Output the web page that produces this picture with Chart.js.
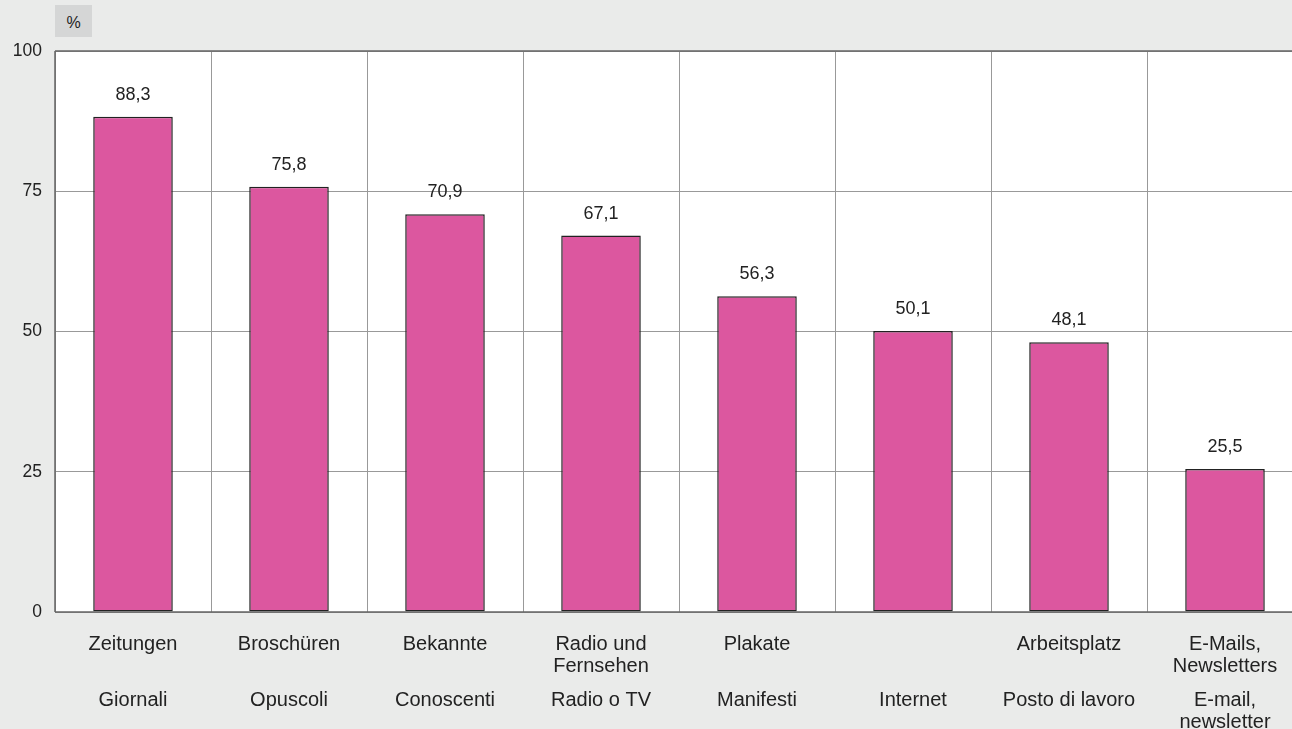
<!DOCTYPE html>
<html><head><meta charset="utf-8">
<script src="https://cdn.jsdelivr.net/npm/chart.js@4/dist/chart.umd.min.js"></script>
<style>
html,body{margin:0;padding:0;background:#eaebea;overflow:hidden;}
#wrap{position:relative;width:1310px;height:729px;}
#unit{position:absolute;left:55px;top:5px;width:37px;height:32px;background:#d5d6d6;font:16px "Liberation Sans",Arial,sans-serif;color:#222;text-align:center;line-height:36px;}
</style></head>
<body>
<div id="wrap"><canvas id="c" width="1310" height="729"></canvas><div id="unit">%</div></div>
<script>
const labelsDE = [["Zeitungen"],["Broschüren"],["Bekannte"],["Radio und","Fernsehen"],["Plakate"],[""],["Arbeitsplatz"],["E-Mails,","Newsletters"]];
const labelsIT = [["Giornali"],["Opuscoli"],["Conoscenti"],["Radio o TV"],["Manifesti"],["Internet"],["Posto di lavoro"],["E-mail,","newsletter"]];
const values = [88.3, 75.8, 70.9, 67.1, 56.3, 50.1, 48.1, 25.5];
const yTicks = [0, 25, 50, 75, 100];

const FONT = '"Liberation Sans", Arial, sans-serif';

const labelPlugin = {
  id: 'labels',
  afterDatasetsDraw(chart) {
    const ctx = chart.ctx;
    const meta = chart.getDatasetMeta(0);
    const xs = chart.scales.x;
    ctx.save();
    ctx.fillStyle = '#222';
    ctx.textAlign = 'center';
    ctx.textBaseline = 'middle';
    ctx.font = '18px ' + FONT;
    meta.data.forEach((bar, i) => {
      ctx.fillText(values[i].toFixed(1).replace('.', ','), bar.x, bar.y - 22);
    });
    ctx.font = '20px ' + FONT;
    const bottom = chart.chartArea.bottom;
    for (let i = 0; i < values.length; i++) {
      const x = xs.getPixelForValue(i);
      labelsDE[i].forEach((t, k) => ctx.fillText(t, x, bottom + 32 + k * 22));
      labelsIT[i].forEach((t, k) => ctx.fillText(t, x, bottom + 88 + k * 22));
    }
    ctx.strokeStyle = '#666';
    ctx.lineWidth = 1.5;
    const a = chart.chartArea;
    ctx.beginPath();
    ctx.moveTo(a.left, a.top); ctx.lineTo(a.right, a.top);
    ctx.moveTo(a.left, a.top); ctx.lineTo(a.left, a.bottom);
    ctx.moveTo(a.left, a.bottom); ctx.lineTo(a.right, a.bottom);
    ctx.stroke();
    ctx.restore();
  }
};

const bgPlugin = {
  id: 'bg',
  beforeDraw(chart) {
    const a = chart.chartArea;
    chart.ctx.save();
    chart.ctx.fillStyle = '#ffffff';
    chart.ctx.fillRect(a.left, a.top, a.right - a.left, a.bottom - a.top);
    chart.ctx.restore();
  }
};

new Chart(document.getElementById('c'), {
  type: 'bar',
  data: {
    labels: labelsDE.map(l => l.join(' ')),
    datasets: [{
      data: values,
      backgroundColor: '#dc579f',
      borderColor: '#222',
      borderWidth: 1.5,
      borderSkipped: false,
      barPercentage: 0.51,
      categoryPercentage: 1.0
    }]
  },
  options: {
    responsive: false,
    animation: false,
    layout: { padding: { left: 0, right: 7, top: 51, bottom: 0 } },
    plugins: { legend: { display: false }, tooltip: { enabled: false } },
    scales: {
      x: {
        offset: true,
        grid: { offset: true, color: '#999', lineWidth: 1, drawTicks: false },
        border: { display: false },
        ticks: { display: false },
        afterFit(s) { s.height = 117; }
      },
      y: {
        min: 0, max: 100,
        afterBuildTicks(s) { s.ticks = yTicks.map(v => ({ value: v })); },
        grid: { color: '#999', lineWidth: 1, drawTicks: false },
        border: { display: false },
        ticks: { color: '#222', font: { size: 17.5, family: FONT }, padding: 13 },
        afterFit(s) { s.width = 55; }
      }
    }
  },
  plugins: [bgPlugin, labelPlugin]
});
</script>
</body></html>
